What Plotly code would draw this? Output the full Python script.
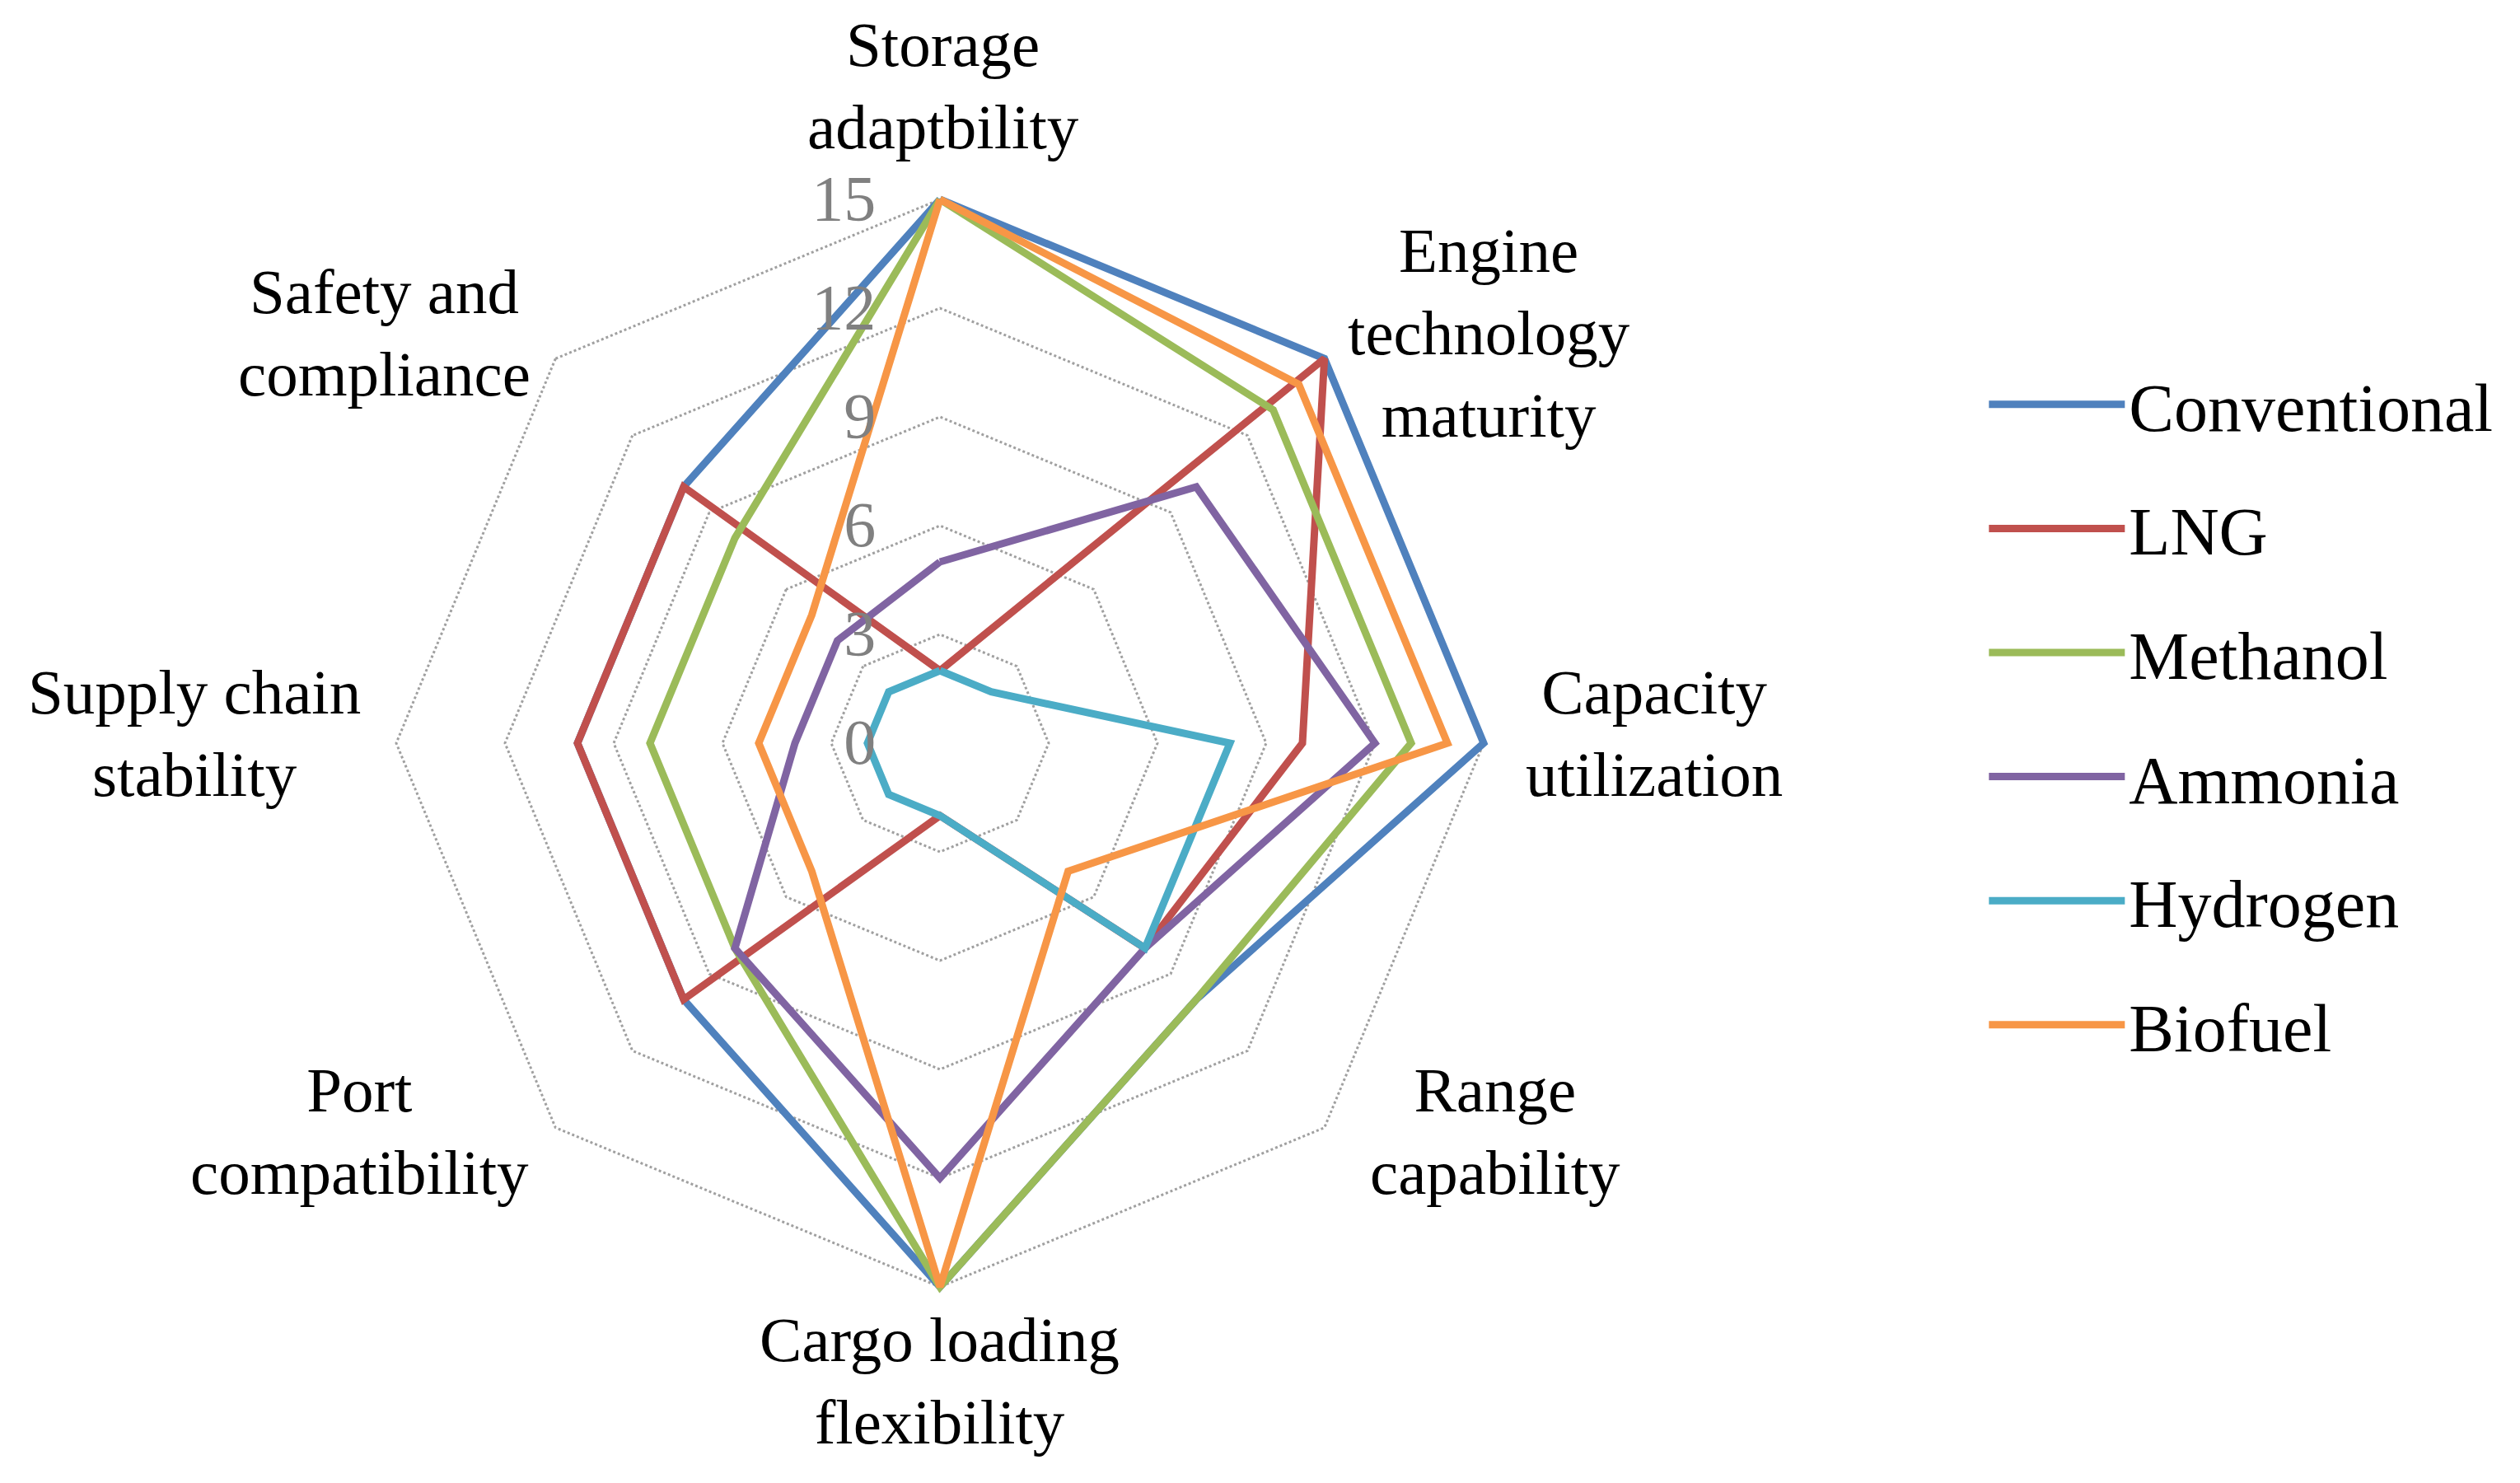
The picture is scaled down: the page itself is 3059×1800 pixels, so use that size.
import plotly.graph_objects as go

categories = [
    "Storage adaptbility",
    "Engine technology maturity",
    "Capacity utilization",
    "Range capability",
    "Cargo loading flexibility",
    "Port compatibility",
    "Supply chain stability",
    "Safety and compliance",
]
category_labels = [
    "Storage<br>adaptbility",
    "Engine<br>technology<br>maturity",
    "Capacity<br>utilization",
    "Range<br>capability",
    "Cargo loading<br>flexibility",
    "Port<br>compatibility",
    "Supply chain<br>stability",
    "Safety and<br>compliance",
]

conventional = [15, 15, 15, 10, 15, 10, 10, 10]
lng = [2, 15, 10, 8, 2, 10, 10, 10]
methanol = [15, 13, 13, 10, 15, 8, 8, 8]
ammonia = [5, 10, 12, 8, 12, 8, 4, 4]
hydrogen = [2, 2, 8, 8, 2, 2, 2, 2]
biofuel = [15, 14, 14, 5, 15, 5, 5, 5]

series_names = ["Conventional", "LNG", "Methanol", "Ammonia", "Hydrogen", "Biofuel"]
series_values = [conventional, lng, methanol, ammonia, hydrogen, biofuel]
series_colors = ["#4F81BD", "#C0504D", "#9BBB59", "#8064A2", "#4BACC6", "#F79646"]

radial_ticks = [0, 3, 6, 9, 12, 15]
radial_max = 15.3  # a little headroom so the ring at 15 is drawn

FONT = "Liberation Serif"
W, H = 3059, 1800
cx, cy, R15 = 1133, 894, 660
R = R15 * radial_max / 15

# label block centres (pixels from top-left), layout only
label_pos = [
    (1137, 96), (1799, 396), (2000, 882), (1807, 1365),
    (1132, 1668), (429, 1365), (228, 882), (458, 396),
]

fig = go.Figure()
for name, vals, col in zip(series_names, series_values, series_colors):
    fig.add_trace(go.Scatterpolar(
        r=vals + vals[:1],
        theta=categories + categories[:1],
        mode="lines",
        name=name,
        legendgroup=name,
        cliponaxis=False,
        line=dict(color=col, width=9),
    ))

annotations = []
for lab, (px, py) in zip(category_labels, label_pos):
    annotations.append(dict(
        text=lab, x=px / W, y=1 - py / H, xref="paper", yref="paper",
        xanchor="center", yanchor="middle", align="center", showarrow=False,
        font=dict(family=FONT, size=77, color="black"),
    ))

fig.update_layout(
    width=W, height=H,
    margin=dict(l=0, r=0, t=0, b=0),
    paper_bgcolor="white",
    plot_bgcolor="white",
    font=dict(family=FONT, size=80, color="black"),
    annotations=annotations,
    polar=dict(
        domain=dict(
            x=[(cx - R) / W, (cx + R) / W],
            y=[(H - cy - R) / H, (H - cy + R) / H],
        ),
        gridshape="linear",
        bgcolor="rgba(0,0,0,0)",
        radialaxis=dict(
            range=[0, radial_max],
            tickvals=radial_ticks,
            ticktext=[str(v) for v in radial_ticks],
            angle=90,
            tickangle=90,
            side="counterclockwise",
            showline=False,
            ticks="outside",
            ticklen=50,
            tickcolor="rgba(0,0,0,0)",
            showgrid=True,
            gridcolor="#A0A0A0",
            gridwidth=2.5,
            griddash="dot",
            tickfont=dict(family=FONT, size=78, color="#808080"),
        ),
        angularaxis=dict(
            type="category",
            categoryarray=categories,
            rotation=90,
            direction="clockwise",
            showgrid=False,
            showline=False,
            showticklabels=False,
            ticks="",
        ),
    ),
    legend=dict(
        x=0.785, y=0.765, xanchor="left", yanchor="top",
        font=dict(family=FONT, size=82, color="black"),
        tracegroupgap=41,
        itemwidth=165,
        bgcolor="rgba(0,0,0,0)",
    ),
)

fig.write_html("out.html")
